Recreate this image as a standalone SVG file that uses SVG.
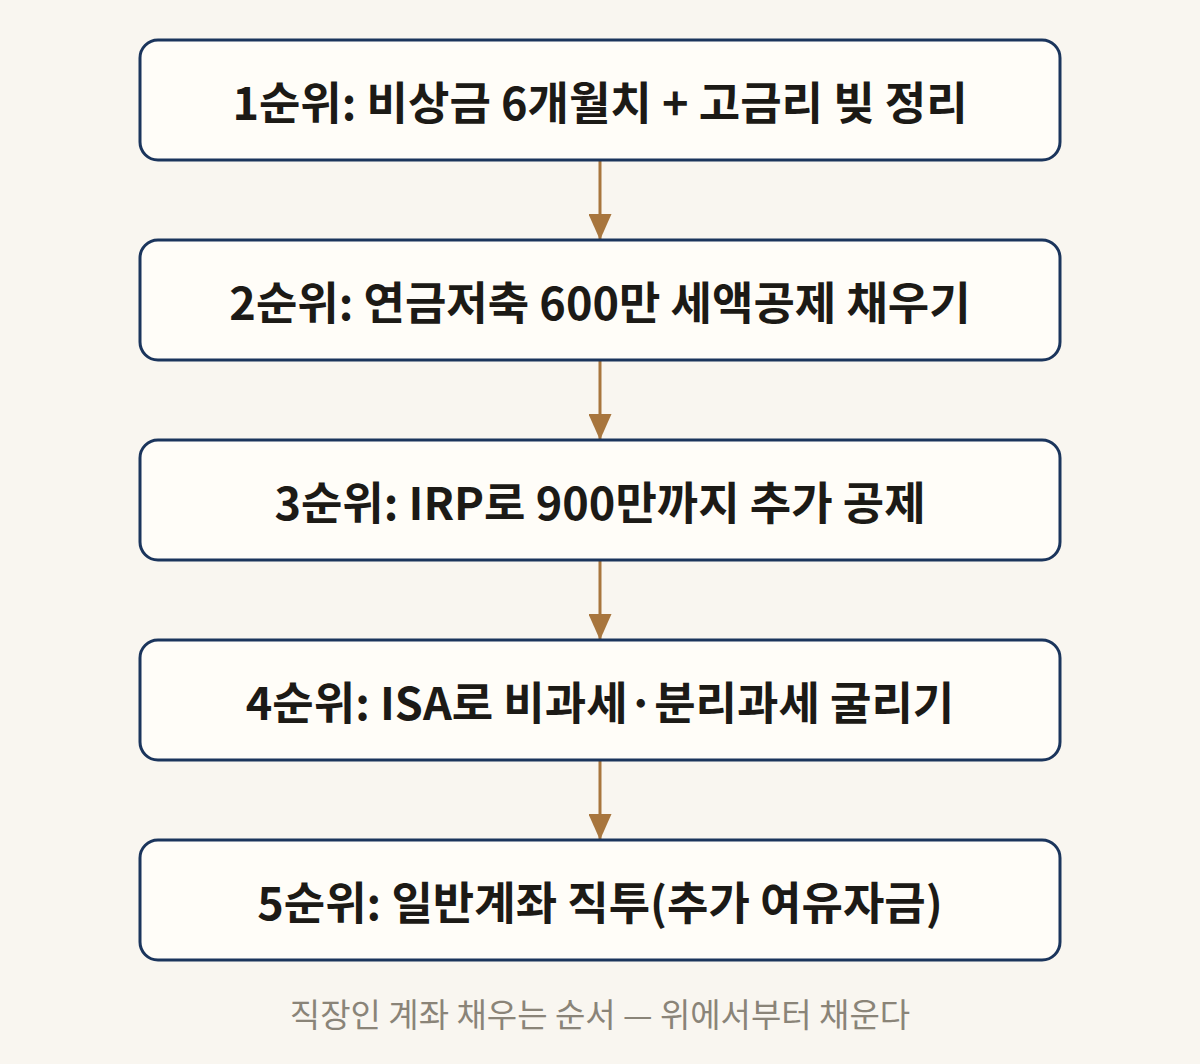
<svg xmlns="http://www.w3.org/2000/svg" width="1200" height="1064" viewBox="0 0 1200 1064">
<defs>
<style>
.box{fill:#fffdf8;stroke:#1b355c;stroke-width:3}
.lbl{font-family:"Noto Sans CJK KR","Noto Sans",sans-serif;font-weight:700;font-size:45px;fill:#1c1a16;text-anchor:middle;dominant-baseline:central}
.cap{font-family:"Noto Sans CJK KR","Noto Sans",sans-serif;font-weight:400;font-size:33px;fill:#8a8478;text-anchor:middle;dominant-baseline:central}
.edge{stroke:#a8763e;stroke-width:3;fill:none}
</style>
<marker id="ah" viewBox="0 0 26 23" refX="26" refY="11.5" markerWidth="26" markerHeight="23" markerUnits="userSpaceOnUse" orient="auto">
<path d="M0,0 L26,11.5 L0,23 Z" fill="#a8763e"/>
</marker>
</defs>
<rect width="1200" height="1064" fill="#f9f6f0"/>
<g id="connectors">
<line class="edge" x1="600" y1="160" x2="600" y2="240" marker-end="url(#ah)"/>
<line class="edge" x1="600" y1="360" x2="600" y2="440" marker-end="url(#ah)"/>
<line class="edge" x1="600" y1="560" x2="600" y2="640" marker-end="url(#ah)"/>
<line class="edge" x1="600" y1="760" x2="600" y2="840" marker-end="url(#ah)"/>
</g>
<g id="node1"><rect class="box" x="140" y="40" width="920" height="120" rx="18"/><text class="lbl" x="600" y="100">1순위: 비상금 6개월치 + 고금리 빚 정리</text></g>
<g id="node2"><rect class="box" x="140" y="240" width="920" height="120" rx="18"/><text class="lbl" x="600" y="300">2순위: 연금저축 600만 세액공제 채우기</text></g>
<g id="node3"><rect class="box" x="140" y="440" width="920" height="120" rx="18"/><text class="lbl" x="600" y="500">3순위: IRP로 900만까지 추가 공제</text></g>
<g id="node4"><rect class="box" x="140" y="640" width="920" height="120" rx="18"/><text class="lbl" x="600" y="700">4순위: ISA로 비과세·분리과세 굴리기</text></g>
<g id="node5"><rect class="box" x="140" y="840" width="920" height="120" rx="18"/><text class="lbl" x="600" y="900">5순위: 일반계좌 직투(추가 여유자금)</text></g>
<text class="cap" x="600" y="1013">직장인 계좌 채우는 순서 — 위에서부터 채운다</text>
</svg>
